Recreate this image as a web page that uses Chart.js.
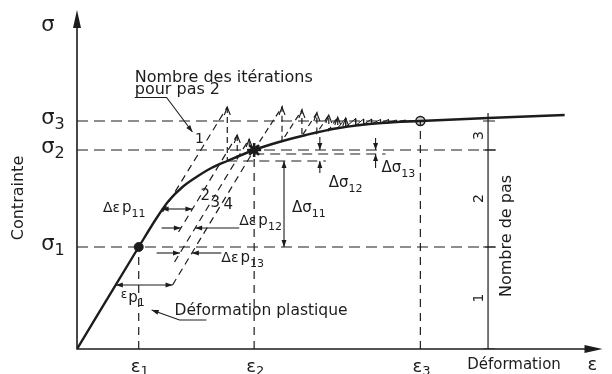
<!DOCTYPE html>
<html lang="fr">
<head>
<meta charset="utf-8">
<title>Contrainte - Déformation</title>
<script src="https://cdn.jsdelivr.net/npm/chart.js@4.4.1/dist/chart.umd.min.js"></script>
<style>
  html, body { margin: 0; padding: 0; background: #fff; }
  #wrap { width: 612px; height: 374px; }
</style>
</head>
<body>
<div id="wrap"><canvas id="chart"></canvas></div>
<script>
const curveEps = [0, 62, 80, 92, 106, 120, 135, 151, 178, 203, 230, 263, 306, 345, 413, 490];
const curveSig = [0, 102, 131, 148, 162, 172, 181, 188, 199, 207, 214, 221, 226, 228, 231, 234];

// niveaux sigma1..3 et epsilon1..3
const sigmaLevels = [102, 199, 228];
const epsLevels = [62, 178, 345];
const levelNames = ['1', '2', '3'];
const stepNames = ['1', '2', '3'];
const stepAxisEps = 413;

// iterations du pas 2 (droites elastiques puis retour sur la courbe)
const it2StartEps = [86, 102, 98, 96];
const it2StartSig = [137, 117, 87, 64];
const it2PeakEps = [151, 161, 173, 178];
const it2PeakSig = [242, 214, 210, 199];
const it2BackSig = [188, 192, 197, 199];
const it2Names = ['1', '2', '3', '4'];

// iterations du pas 3 (dents de scie)
const it3Eps = [178, 206, 206, 226, 226, 241, 241, 253, 253, 262, 262, 270, 270, 280, 280, 288, 288, 296, 296, 305, 305, 313, 313, 321, 321, 330, 330, 338, 338, 345];
const it3Sig = [199, 242, 208, 239, 213, 236, 216, 234, 219, 232, 221, 231, 222, 230.5, 223.5, 230, 224.5, 230, 225, 229.5, 226, 229.5, 226.5, 229, 227, 229, 227.5, 228.5, 228, 228];

// contraintes intermediaires (delta sigma)
const dSigLevels = [188, 195];

const ink = '#1c1c1c';
const font = '"DejaVu Sans", sans-serif';

function pts(xs, ys) { return xs.map((x, i) => ({ x: x, y: ys[i] })); }
function line(data, opts) {
  return Object.assign({ data: data, showLine: true, pointRadius: 0, borderColor: ink, borderWidth: 1.2, fill: false }, opts || {});
}

const datasets = [];
datasets.push(line(pts(curveEps, curveSig), { borderWidth: 2.4, cubicInterpolationMode: 'monotone' }));

// lignes de rappel
sigmaLevels.forEach((s, i) => {
  const end = i < 2 ? 421 : epsLevels[2];
  datasets.push(line([{ x: 0, y: s }, { x: end, y: s }], { borderDash: [11, 6] }));
});
epsLevels.forEach((e, i) => {
  datasets.push(line([{ x: e, y: 0 }, { x: e, y: sigmaLevels[i] }], { borderDash: [8, 6] }));
});
datasets.push(line([{ x: it2PeakEps[0], y: dSigLevels[0] }, { x: 250, y: dSigLevels[0] }], { borderDash: [10, 6] }));
datasets.push(line([{ x: epsLevels[1], y: dSigLevels[1] }, { x: 310, y: dSigLevels[1] }], { borderDash: [10, 6] }));

// pas 2
for (let i = 0; i < it2StartEps.length; i++) {
  datasets.push(line([{ x: it2StartEps[i], y: it2StartSig[i] }, { x: it2PeakEps[i], y: it2PeakSig[i] }], { borderDash: [7, 5] }));
  if (it2BackSig[i] < it2PeakSig[i]) {
    datasets.push(line([{ x: it2PeakEps[i], y: it2PeakSig[i] }, { x: it2PeakEps[i], y: it2BackSig[i] }], { borderDash: [6, 4] }));
  }
}

// pas 3
const saw = pts(it3Eps, it3Sig);
datasets.push(line(saw.slice(0, 11), { borderDash: [6, 4] }));
datasets.push(line(saw.slice(10), { borderWidth: 1 }));

// axe "Nombre de pas"
datasets.push(line([{ x: stepAxisEps, y: 0 }, { x: stepAxisEps, y: 236 }]));
[0].concat(sigmaLevels).forEach(s => {
  datasets.push(line([{ x: stepAxisEps - 5, y: s }, { x: stepAxisEps + 7, y: s }]));
});

// points remarquables
datasets.push({ data: [{ x: epsLevels[0], y: sigmaLevels[0] }], showLine: false, pointRadius: 4.5, pointBackgroundColor: ink, pointBorderColor: ink });
datasets.push({ data: [{ x: epsLevels[1], y: sigmaLevels[1] }], showLine: false, pointStyle: 'star', pointRadius: 7, pointBorderWidth: 2.5, pointBorderColor: ink });
datasets.push({ data: [{ x: epsLevels[1], y: sigmaLevels[1] }], showLine: false, pointRadius: 3.5, pointBackgroundColor: ink, pointBorderColor: ink });
datasets.push({ data: [{ x: epsLevels[2], y: sigmaLevels[2] }], showLine: false, pointRadius: 4.5, pointBackgroundColor: '#cfcfcf', pointBorderColor: ink, pointBorderWidth: 1.5 });

function head(ctx, x1, y1, x2, y2, len, half) {
  const a = Math.atan2(y2 - y1, x2 - x1);
  ctx.beginPath();
  ctx.moveTo(x2, y2);
  ctx.lineTo(x2 - len * Math.cos(a) + half * Math.sin(a), y2 - len * Math.sin(a) - half * Math.cos(a));
  ctx.lineTo(x2 - len * Math.cos(a) - half * Math.sin(a), y2 - len * Math.sin(a) + half * Math.cos(a));
  ctx.closePath();
  ctx.fill();
}

function drawParts(ctx, parts, x, y) {
  let cx = x;
  parts.forEach(p => {
    ctx.font = p[1] + 'px ' + font;
    cx += p[3] || 0;
    ctx.fillText(p[0], cx, y + (p[2] || 0));
    cx += ctx.measureText(p[0]).width;
  });
}

const schema = {
  id: 'schema',
  beforeDatasetsDraw(chart) {
    const { ctx, scales: { x, y } } = chart;
    const x0 = x.getPixelForValue(0), y0 = y.getPixelForValue(0);
    const xt = x.getPixelForValue(x.max), yt = y.getPixelForValue(y.max);
    ctx.save();
    ctx.strokeStyle = ink; ctx.fillStyle = ink; ctx.lineWidth = 1.6;
    ctx.beginPath();
    ctx.moveTo(x0, yt + 10); ctx.lineTo(x0, y0); ctx.lineTo(xt - 10, y0);
    ctx.stroke();
    head(ctx, x0, y0, x0, yt, 18, 4);
    head(ctx, x0, y0, xt, y0, 18, 4);
    ctx.restore();
  },
  afterDatasetsDraw(chart) {
    const { ctx, scales: { x, y } } = chart;
    const X = v => x.getPixelForValue(v), Y = v => y.getPixelForValue(v);
    ctx.save();
    ctx.strokeStyle = ink; ctx.fillStyle = ink; ctx.lineWidth = 1.1;

    // fleches de cotation
    const arrows = [
      { p: [[39, 64], [96, 64]], both: true },
      { p: [[85, 140], [116, 140]], both: true },
      { p: [[85, 121], [104.4, 121]] }, { p: [[163, 121], [118.7, 121]] },
      { p: [[80, 96], [103.5, 96]] }, { p: [[145, 96], [115.4, 96]] },
      { p: [[208, sigmaLevels[0]], [208, dSigLevels[0]]], both: true },
      { p: [[244, 212], [244, sigmaLevels[1]]] }, { p: [[244, 176], [244, dSigLevels[0]]] },
      { p: [[300, 211], [300, sigmaLevels[1]]] }, { p: [[300, 181], [300, dSigLevels[1]]] },
      { p: [[58, 251.5], [90, 251.5], [116, 217]] },
      { p: [[130, 29], [103, 29], [75, 39]] }
    ];
    arrows.forEach(a => {
      const q = a.p.map(v => [X(v[0]), Y(v[1])]);
      ctx.beginPath();
      q.forEach((v, i) => i ? ctx.lineTo(v[0], v[1]) : ctx.moveTo(v[0], v[1]));
      ctx.stroke();
      const n = q.length;
      head(ctx, q[n - 2][0], q[n - 2][1], q[n - 1][0], q[n - 1][1], 7, 2.5);
      if (a.both) head(ctx, q[1][0], q[1][1], q[0][0], q[0][1], 7, 2.5);
    });

    // petites pointes aux sommets des iterations
    const peaks = [];
    for (let i = 0; i < 3; i++) peaks.push([it2PeakEps[i], it2PeakSig[i]]);
    for (let i = 1; i < 13; i += 2) peaks.push([it3Eps[i], it3Sig[i]]);
    ctx.lineWidth = 1.1;
    peaks.forEach(p => {
      const px = X(p[0]), py = Y(p[1]);
      ctx.beginPath();
      ctx.moveTo(px - 3, py + 8); ctx.lineTo(px, py); ctx.lineTo(px + 3, py + 8);
      ctx.stroke();
    });

    // textes
    ctx.textBaseline = 'alphabetic';
    ctx.textAlign = 'left';
    drawParts(ctx, [['σ', 21]], X(-36), Y(318));
    sigmaLevels.forEach((s, i) => drawParts(ctx, [['σ', 21], [levelNames[i], 16, 5]], X(-36), Y(s - 3)));
    epsLevels.forEach((e, i) => drawParts(ctx, [['ε', 18], [levelNames[i], 13, 3]], X(e - 8), Y(-23)));
    drawParts(ctx, [['Déformation', 15]], X(392), Y(-20));
    drawParts(ctx, [['ε', 18]], X(513), Y(-21));
    drawParts(ctx, [['Nombre des itérations', 16]], X(58), Y(267));
    drawParts(ctx, [['pour pas 2', 16]], X(58), Y(255));
    drawParts(ctx, [['Déformation plastique', 15.5]], X(98), Y(34));
    drawParts(ctx, [['Δε', 14], ['p', 15, 0, 2], ['11', 11, 5]], X(26), Y(137));
    drawParts(ctx, [['Δε', 14], ['p', 15, 0, 2], ['12', 11, 5]], X(163), Y(124));
    drawParts(ctx, [['Δε', 14], ['p', 15, 0, 2], ['13', 11, 5]], X(145), Y(87));
    drawParts(ctx, [['ε', 12, -4], ['p', 15, 0, 1], ['1', 11, 4]], X(44), Y(47));
    drawParts(ctx, [['Δσ', 15], ['11', 11, 5]], X(216), Y(137));
    drawParts(ctx, [['Δσ', 15], ['12', 11, 5]], X(253), Y(162));
    drawParts(ctx, [['Δσ', 15], ['13', 11, 5]], X(306), Y(177));

    ctx.textAlign = 'center';
    ctx.textBaseline = 'middle';
    const itPos = [[123, 210], [129, 153], [139, 146], [152, 144]];
    it2Names.forEach((t, i) => {
      ctx.font = (i ? 15 : 14) + 'px ' + font;
      ctx.fillText(t, X(itPos[i][0]), Y(itPos[i][1]));
    });

    // textes verticaux
    const vtext = (t, size, px, py, align) => {
      ctx.save();
      ctx.translate(px, py);
      ctx.rotate(-Math.PI / 2);
      ctx.font = size + 'px ' + font;
      ctx.textAlign = align;
      ctx.textBaseline = 'middle';
      ctx.fillText(t, 0, 0);
      ctx.restore();
    };
    vtext('Contrainte', 16, X(-58), Y(151), 'center');
    vtext('Nombre de pas', 16, X(432), Y(52), 'left');
    const bounds = [0].concat(sigmaLevels);
    stepNames.forEach((t, i) => vtext(t, 14, X(404), Y((bounds[i] + bounds[i + 1]) / 2), 'center'));
    ctx.restore();
  }
};

new Chart(document.getElementById('chart'), {
  type: 'scatter',
  data: { datasets: datasets },
  options: {
    responsive: true,
    maintainAspectRatio: false,
    animation: false,
    events: [],
    layout: { padding: { left: 77, right: 7, top: 10, bottom: 25 } },
    plugins: { legend: { display: false }, tooltip: { enabled: false } },
    scales: {
      x: { type: 'linear', min: 0, max: 528, display: false },
      y: { type: 'linear', min: 0, max: 339, display: false }
    }
  },
  plugins: [schema]
});
</script>
</body>
</html>
